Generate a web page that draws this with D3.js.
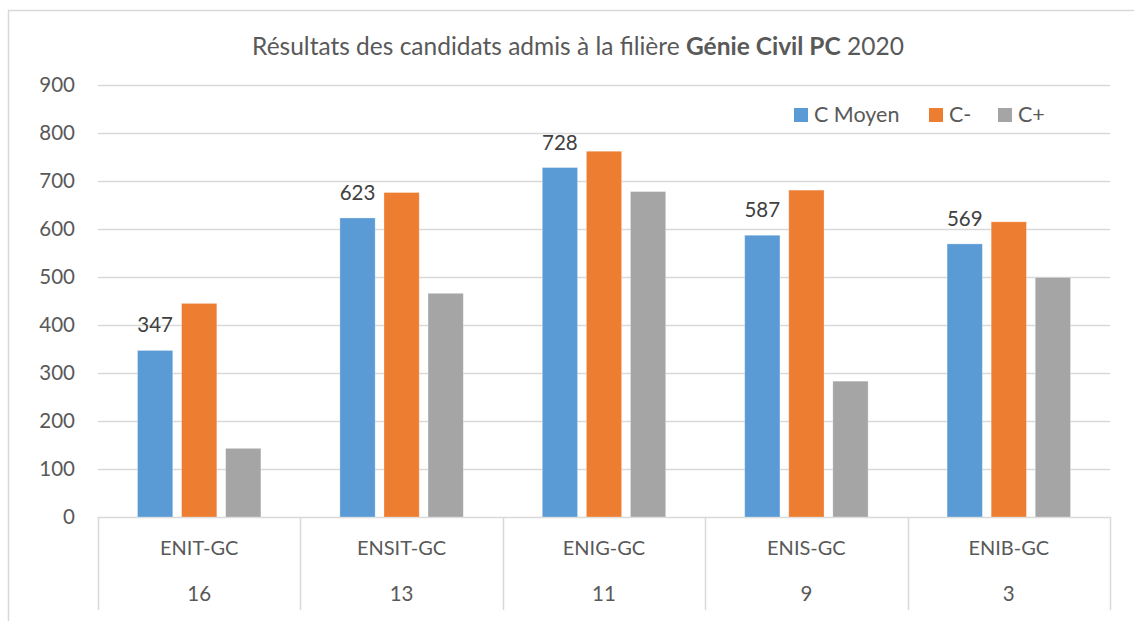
<!DOCTYPE html>
<html>
<head>
<meta charset="utf-8">
<script src="https://cdn.jsdelivr.net/npm/d3@7"></script>
<style>
  body{margin:0;background:#fff}
  svg{display:block}
  text{font-family:Lato,"Open Sans",sans-serif;fill:#595959}
</style>
</head>
<body>
<script>
//data
const categories = ["ENIT-GC","ENSIT-GC","ENIG-GC","ENIS-GC","ENIB-GC"]
const ranks = ["16","13","11","9","3"]
const seriesNames = ["C Moyen","C-","C+"]
const cMoyen = [347,623,728,587,569]
const cMinus = [445,676,762,681,615]
const cPlus = [143,466,678,283,499]
const yTicks = [0,100,200,300,400,500,600,700,800,900]
const colors = ["#5B9BD5","#ED7D31","#A5A5A5"]

const W=1134,H=621
const plotLeft=98,plotRight=1110,plotTop=85,plotBottom=517
const gridColor="#d9d9d9"

let svg=d3.select("body").append("svg").attr("width",W).attr("height",H)

//outer chart frame (right and bottom are cut off in the picture)
svg.append("path")
  .attr("d",`M8.5,${H} V10.5 H${W}`)
  .attr("fill","none").attr("stroke",gridColor).attr("stroke-width",1.5)

let y=d3.scaleLinear().domain([0,900]).range([plotBottom,plotTop])
let x0=d3.scaleBand().domain(categories).range([plotLeft,plotRight])
let x1=d3.scaleBand().domain(seriesNames)
  .range([39.5,x0.bandwidth()-39.5]).paddingInner(0.2)

//gridlines
svg.append("g").selectAll("line").data(yTicks).join("line")
  .attr("x1",plotLeft).attr("x2",plotRight)
  .attr("y1",d=>Math.round(y(d))+0.5).attr("y2",d=>Math.round(y(d))+0.5)
  .attr("stroke",gridColor).attr("stroke-width",1.5)

//y axis labels
let yAxis=svg.append("g").attr("transform",`translate(${plotLeft},0)`)
  .call(d3.axisLeft(y).tickValues(yTicks).tickSize(0).tickPadding(23))
yAxis.select(".domain").remove()
yAxis.selectAll("text").style("font-size","20.5px").attr("fill","#595959")
  .style("font-family","Lato,'Open Sans',sans-serif")

//bars
let rows=categories.map((c,i)=>({cat:c,vals:[cMoyen[i],cMinus[i],cPlus[i]]}))
let groups=svg.append("g").selectAll("g").data(rows).join("g")
  .attr("transform",d=>`translate(${x0(d.cat)},0)`)
groups.selectAll("rect").data(d=>d.vals.map((v,k)=>({name:seriesNames[k],v:v,k:k})))
  .join("rect")
  .attr("x",d=>x1(d.name)).attr("width",x1.bandwidth())
  .attr("y",d=>y(d.v)).attr("height",d=>plotBottom-y(d.v))
  .attr("fill",d=>colors[d.k])
  .attr("stroke","#fff").attr("stroke-opacity",0.35).attr("stroke-width",0.8)

//data labels, only first series
groups.append("text")
  .attr("x",x1(seriesNames[0])+x1.bandwidth()/2)
  .attr("y",d=>y(d.vals[0])-18)
  .attr("text-anchor","middle")
  .style("font-size","20.5px").style("fill","#404040")
  .text(d=>d.vals[0])

//multi level category axis
let bounds=categories.map(c=>x0(c)).concat([plotRight])
svg.append("g").selectAll("line").data(bounds).join("line")
  .attr("x1",d=>Math.round(d)+0.5).attr("x2",d=>Math.round(d)+0.5)
  .attr("y1",plotBottom).attr("y2",610)
  .attr("stroke",gridColor).attr("stroke-width",1.5)
svg.append("g").selectAll("text").data(categories).join("text")
  .attr("x",d=>x0(d)+x0.bandwidth()/2).attr("y",555)
  .attr("text-anchor","middle").style("font-size","20px")
  .text(d=>d)
svg.append("g").selectAll("text").data(ranks).join("text")
  .attr("x",(d,i)=>x0(categories[i])+x0.bandwidth()/2).attr("y",601)
  .attr("text-anchor","middle").style("font-size","20.5px")
  .text(d=>d)

//title
let title=svg.append("text").attr("x",578).attr("y",55)
  .attr("text-anchor","middle").style("font-size","24.5px")
title.append("tspan").text("Résultats des candidats admis à la filière ")
title.append("tspan").style("font-weight","bold").text("Génie Civil PC")
title.append("tspan").text(" 2020")

//legend
let legendX=[794,929,998]
let legend=svg.append("g").selectAll("g").data(seriesNames).join("g")
  .attr("transform",(d,i)=>`translate(${legendX[i]},108)`)
legend.append("rect").attr("width",14).attr("height",14).attr("fill",(d,i)=>colors[i])
legend.append("text").attr("x",20).attr("y",14).style("font-size","21.5px").text(d=>d)
</script>
</body>
</html>
